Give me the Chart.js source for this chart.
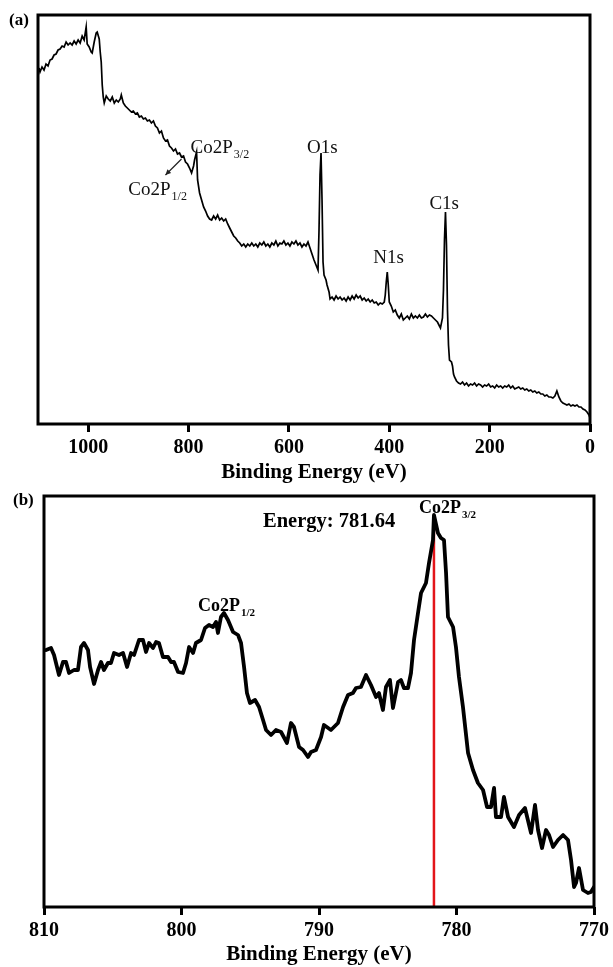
<!DOCTYPE html>
<html>
<head>
<meta charset="utf-8">
<script src="https://cdn.jsdelivr.net/npm/chart.js@4.4.1/dist/chart.umd.min.js"></script>
<style>
  body { margin: 0; background: #fff; }
  #wrap { position: relative; width: 613px; height: 967px; }
  #wrap canvas { position: absolute; left: 0; }
</style>
</head>
<body>
<div id="wrap">
  <canvas id="survey" width="613" height="485" style="top:0"></canvas>
  <canvas id="core" width="613" height="482" style="top:485px"></canvas>
</div>
<script>
// (a) wide survey scan
const surveyEnergy = [
  1098, 1096, 1092, 1088, 1084, 1080, 1076, 1072, 1068, 1064, 1060, 1056, 1052, 1048, 1044, 1040, 1036, 1032, 1028, 1024, 1020, 1016, 1012, 1008, 1004,
  1002, 998, 994, 992, 988, 984, 982, 978, 976, 974, 972, 970, 968, 964, 960, 956, 952, 948, 944, 940, 936,
  934, 930, 926, 922, 918, 914, 910, 906, 902, 898, 894, 890, 886, 882, 878, 874, 870, 866, 862, 858, 854, 850, 846, 842, 838, 834, 830, 826, 822, 818, 814, 810, 806, 802, 798, 794,
  790, 788, 784, 782, 778, 774, 770, 766, 762, 758, 754, 750, 746, 742, 738, 734, 730, 726, 722, 718, 714, 710, 706, 702,
  698, 694, 690, 686, 682, 678, 674, 670, 666, 662, 658, 654, 650, 646, 642, 638, 634, 630, 626, 622, 618, 614, 610, 606, 602, 598, 594, 590, 586, 582, 578, 574, 570, 566, 562, 558, 554, 550, 546,
  542, 540, 538, 536, 534, 532, 530,
  526, 524, 520, 518, 514, 510, 506, 502, 498, 494, 490, 486, 482, 478, 474, 470, 466, 462, 458, 454, 450, 446, 442, 438, 434, 430, 426, 422, 418, 414, 410,
  408, 406, 404, 402, 400,
  396, 392, 388, 384, 380, 376, 372, 368, 364, 360, 356, 352, 348, 344, 340, 336, 332, 328, 324, 320, 316, 312, 308, 304, 300,
  298, 294, 292, 290, 288, 286, 284, 282, 280,
  276, 274, 272, 270, 266, 262, 258, 254, 250, 246, 242, 238, 234, 230, 226, 222, 218, 214, 210, 206, 202, 198, 194, 190, 186, 182, 178, 174, 170, 166, 162, 158, 154, 150,
  146, 142, 138, 134, 130, 126, 122, 118, 114, 110, 106, 102, 98, 94, 90, 86, 82, 78, 74, 70, 66, 62, 58, 54, 50, 46, 42, 38, 34, 30, 26, 22, 18, 14, 10, 6, 2, 0
];
const surveyCounts = [
  355, 351, 356, 353, 359, 357, 363, 364, 368, 369, 373, 374, 377, 376, 381, 378, 380, 378, 382, 379, 383, 380, 387, 383, 396,
  379, 376, 371, 370, 381, 390, 391, 384, 371, 361, 338, 326, 320, 327, 324, 322, 326, 320, 323, 321, 324,
  328, 320, 317, 315, 313, 311, 312, 309, 310, 306, 307, 304, 305, 302, 303, 300, 302, 297, 295, 290, 292, 285, 282, 283, 277, 275, 272, 274, 269, 270, 266, 267, 261, 259, 255, 250,
  257, 263, 271, 243, 230, 223, 216, 212, 207, 204, 203, 207, 204, 208, 203, 205, 202, 204, 199, 195, 191, 187, 185, 182,
  180, 177, 179, 176, 179, 177, 180, 177, 179, 176, 180, 178, 181, 177, 179, 176, 180, 178, 182, 177, 180, 179, 182, 178, 180, 177, 181, 179, 182, 178, 180, 176, 179, 177, 181, 175, 169, 163, 158,
  153, 193, 248, 270, 223, 161, 148,
  143, 138, 131, 124, 126, 123, 127, 124, 126, 123, 125, 122, 126, 123, 127, 124, 128, 125, 127, 123, 125, 122, 124, 121, 123, 120, 121, 118, 120, 119, 121,
  128, 141, 151, 138, 121,
  117, 111, 113, 108, 105, 109, 103, 105, 107, 104, 109, 105, 107, 105, 108, 105, 106, 109, 106, 108, 107, 105, 103, 101, 97,
  95, 105, 133, 183, 211, 178, 113, 78, 63,
  61, 57, 49, 46, 42, 40, 39, 41, 38, 40, 37, 39, 38, 40, 37, 39, 38, 36, 38, 37, 39, 36, 37, 35, 38, 36, 37, 35, 37, 36, 38, 35, 37, 34,
  35, 36, 34, 35, 33, 34, 32, 33, 31, 32, 30, 31, 29, 29, 27, 28, 26, 26, 25, 27, 32, 26, 22, 20, 19, 18, 19, 17, 18, 17, 18, 16, 16, 14, 13, 11, 8, 5
];
const surveyTicks = [1000, 800, 600, 400, 200, 0];

// (b) Co 2p high resolution scan
const coreEnergy = [
  809.85, 809.49, 809.27, 808.91, 808.62, 808.40, 808.18, 807.82, 807.53, 807.31,
  807.09, 806.80, 806.65, 806.36, 806.07, 805.85, 805.64, 805.35, 805.13, 804.91,
  804.55, 804.25, 803.96, 803.67, 803.45, 803.09, 802.80, 802.58, 802.36, 802.07,
  801.85, 801.64, 801.35, 800.98, 800.76, 800.55, 800.25, 799.89, 799.67, 799.45,
  799.16, 798.95, 798.58, 798.29, 798.00, 797.71, 797.49, 797.35, 797.13, 796.91,
  796.62, 796.25, 795.89, 795.67, 795.45, 795.24, 795.02, 794.65, 794.36, 794.07,
  793.85, 793.49, 793.13, 792.76, 792.33, 792.04, 791.82, 791.45, 791.16, 790.80,
  790.58, 790.22, 789.85, 789.64, 789.13, 788.62, 788.25, 787.89, 787.53, 787.31,
  786.95, 786.58, 786.22, 785.85, 785.64, 785.35, 785.13, 784.84, 784.62, 784.25,
  784.04, 783.82, 783.53, 783.31, 783.09, 782.80, 782.58, 782.22, 782.00, 781.71,
  781.64, 781.35, 781.13, 780.91, 780.76, 780.62, 780.25, 780.04, 779.82, 779.53,
  779.16, 778.80, 778.44, 778.07, 777.78, 777.49, 777.27, 777.13, 776.76, 776.55,
  776.25, 775.82, 775.45, 775.02, 774.58, 774.29, 774.07, 773.78, 773.49, 773.27,
  772.98, 772.62, 772.25, 771.89, 771.67, 771.45, 771.31, 771.09, 770.80, 770.44,
  770.22, 770.00
];
const coreCounts = [
  257, 259, 252, 232, 245, 245, 234, 237, 237, 260,
  264, 257, 240, 223, 237, 245, 237, 244, 244, 254,
  252, 254, 240, 254, 252, 267, 267, 255, 264, 259,
  265, 264, 250, 250, 245, 245, 235, 234, 244, 260,
  254, 264, 267, 279, 282, 280, 285, 274, 290, 294,
  287, 275, 272, 264, 240, 214, 204, 207, 200, 187,
  177, 172, 177, 175, 164, 184, 180, 160, 157, 150,
  155, 157, 170, 182, 177, 184, 200, 212, 214, 219,
  220, 232, 222, 210, 214, 197, 220, 227, 199, 225,
  227, 219, 219, 234, 267, 294, 314, 324, 344, 367,
  392, 374, 369, 367, 334, 290, 280, 260, 230, 200,
  154, 137, 124, 117, 100, 100, 119, 90, 90, 110,
  90, 80, 92, 99, 74, 102, 77, 59, 77, 72,
  60, 67, 72, 67, 47, 20, 24, 39, 17, 14,
  15, 20
];
const coreTicks = [810, 800, 790, 780, 770];
const peakEnergy = 781.64;
const peakCounts = 392;

const SERIF = '"Liberation Serif", "Times New Roman", serif';
Chart.defaults.font.family = SERIF;
Chart.defaults.color = '#000';

const toPoints = (xs, ys) => xs.map((x, i) => ({ x: x, y: ys[i] }));

// heavy box round the plot area
const framePlugin = {
  id: 'frame',
  afterDatasetsDraw(chart) {
    const { ctx, chartArea: a } = chart;
    ctx.save();
    ctx.strokeStyle = '#000';
    ctx.lineWidth = 3;
    ctx.strokeRect(a.left, a.top, a.right - a.left, a.bottom - a.top);
    ctx.restore();
  }
};

// peak names (with subscripts), panel letter and arrows
const peakLabelPlugin = {
  id: 'peakLabels',
  afterDraw(chart, args, opts) {
    const { ctx } = chart;
    const xs = chart.scales.x, ys = chart.scales.y;
    ctx.save();
    ctx.textBaseline = 'alphabetic';
    ctx.textAlign = 'left';
    (opts.items || []).forEach(it => {
      const px = xs.getPixelForValue(it.energy);
      const py = ys.getPixelForValue(it.counts);
      ctx.fillStyle = opts.color || '#000';
      ctx.font = it.font || opts.font;
      ctx.fillText(it.text, px, py);
      if (it.sub) {
        const w = ctx.measureText(it.text).width;
        ctx.font = opts.subFont;
        ctx.fillText(it.sub, px + w + 1, py + 5);
      }
    });
    (opts.arrows || []).forEach(ar => {
      const x1 = xs.getPixelForValue(ar.from[0]), y1 = ys.getPixelForValue(ar.from[1]);
      const x2 = xs.getPixelForValue(ar.to[0]), y2 = ys.getPixelForValue(ar.to[1]);
      const ang = Math.atan2(y2 - y1, x2 - x1);
      ctx.strokeStyle = '#222';
      ctx.lineWidth = 1.2;
      ctx.beginPath();
      ctx.moveTo(x1, y1);
      ctx.lineTo(x2, y2);
      ctx.stroke();
      ctx.beginPath();
      ctx.moveTo(x2, y2);
      ctx.lineTo(x2 - 6 * Math.cos(ang - 0.45), y2 - 6 * Math.sin(ang - 0.45));
      ctx.lineTo(x2 - 6 * Math.cos(ang + 0.45), y2 - 6 * Math.sin(ang + 0.45));
      ctx.closePath();
      ctx.fillStyle = '#222';
      ctx.fill();
    });
    if (opts.panel) {
      ctx.fillStyle = '#000';
      ctx.font = 'bold 17px ' + SERIF;
      ctx.fillText(opts.panel.text, opts.panel.x, opts.panel.y);
    }
    ctx.restore();
  }
};

function energyAxis(min, max, ticks, height) {
  return {
    type: 'linear',
    reverse: true,
    min: min,
    max: max,
    afterBuildTicks: s => { s.ticks = ticks.map(v => ({ value: v })); },
    afterFit: s => { s.height = height; },
    grid: { drawOnChartArea: false, drawTicks: true, tickLength: 8, tickWidth: 3, tickColor: '#000' },
    border: { display: false },
    ticks: {
      callback: v => String(v),
      font: { size: 20, weight: 'bold' },
      color: '#000',
      padding: 4,
      maxRotation: 0,
      autoSkip: false
    },
    title: {
      display: true,
      text: 'Binding Energy (eV)',
      font: { size: 21, weight: 'bold' },
      color: '#000',
      padding: 0
    }
  };
}

new Chart(document.getElementById('survey'), {
  type: 'line',
  data: {
    datasets: [{
      data: toPoints(surveyEnergy, surveyCounts),
      borderColor: '#000',
      borderWidth: 1.7,
      pointRadius: 0,
      tension: 0
    }]
  },
  options: {
    responsive: false,
    animation: false,
    layout: { padding: { left: 38, right: 23, top: 15, bottom: 0 } },
    scales: {
      x: energyAxis(0, 1100, surveyTicks, 61),
      y: { display: false, min: -1, max: 408 }
    },
    plugins: {
      legend: { display: false },
      tooltip: { enabled: false },
      peakLabels: {
        font: '19px ' + SERIF,
        subFont: '12px ' + SERIF,
        color: '#111',
        items: [
          { text: 'Co2P', sub: '3/2', energy: 796, counts: 270 },
          { text: 'Co2P', sub: '1/2', energy: 920, counts: 228 },
          { text: 'O1s', energy: 564, counts: 270 },
          { text: 'N1s', energy: 432, counts: 160 },
          { text: 'C1s', energy: 320, counts: 214 }
        ],
        arrows: [{ from: [814, 264], to: [846, 248] }],
        panel: { text: '(a)', x: 9, y: 25 }
      }
    }
  },
  plugins: [framePlugin, peakLabelPlugin]
});

new Chart(document.getElementById('core'), {
  type: 'line',
  data: {
    datasets: [{
      data: toPoints(coreEnergy, coreCounts),
      borderColor: '#000',
      borderWidth: 3.8,
      borderJoinStyle: 'round',
      borderCapStyle: 'round',
      pointRadius: 0,
      tension: 0
    }, {
      data: [{ x: peakEnergy, y: 0 }, { x: peakEnergy, y: peakCounts }],
      borderColor: '#e3151a',
      borderWidth: 2.5,
      pointRadius: 0
    }]
  },
  options: {
    responsive: false,
    animation: false,
    layout: { padding: { left: 44, right: 19, top: 11, bottom: 0 } },
    scales: {
      x: energyAxis(770, 810, coreTicks, 60),
      y: { display: false, min: 0, max: 411 }
    },
    plugins: {
      legend: { display: false },
      tooltip: { enabled: false },
      peakLabels: {
        font: 'bold 18px ' + SERIF,
        subFont: 'bold 11px ' + SERIF,
        color: '#000',
        items: [
          { text: 'Energy: ' + peakEnergy.toFixed(2), energy: 794.07, counts: 380, font: 'bold 20.5px ' + SERIF },
          { text: 'Co2P', sub: '3/2', energy: 782.73, counts: 394 },
          { text: 'Co2P', sub: '1/2', energy: 798.8, counts: 296 }
        ],
        panel: { text: '(b)', x: 13, y: 20 }
      }
    }
  },
  plugins: [framePlugin, peakLabelPlugin]
});
</script>
</body>
</html>
